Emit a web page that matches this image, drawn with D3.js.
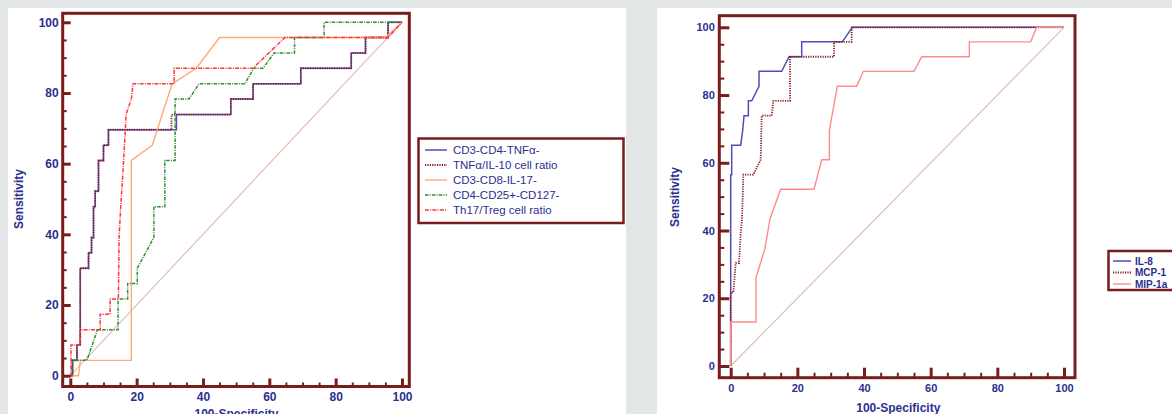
<!DOCTYPE html>
<html><head><meta charset="utf-8">
<script src="https://cdn.jsdelivr.net/npm/d3@7"></script>
<style>
html,body{margin:0;padding:0;background:#e3e6e7;}
svg{display:block;}
text{font-family:"Liberation Sans",Arial,sans-serif;}
</style></head>
<body>
<svg id="c" width="1172" height="414"></svg>
<script>
// ---------- DATA ----------
const axisTicks = [0, 20, 40, 60, 80, 100];
const xTitle = "100-Specificity";
const yTitle = "Sensitivity";

// Left chart series: 100-Specificity (x) / Sensitivity (y)
const leftNames = ["CD3-CD4-TNFα-", "TNFα/IL-10 cell ratio", "CD3-CD8-IL-17-", "CD4-CD25+-CD127-", "Th17/Treg cell ratio"];
const cd4tnfX = [0,0.7,0.7,2,2,3,3,5.5,5.5,6.4,6.4,7,7,7.5,7.5,8.5,8.5,10,10,11.5,11.5,32,32,48.4,48.4,55.1,55.1,69.5,69.5,84.7,84.7,89,89,95.8,95.8,100];
const cd4tnfY = [0,0,4.35,4.35,8.7,8.7,30.4,30.4,34.8,34.8,39.1,39.1,47.8,47.8,52.2,52.2,60.9,60.9,65.2,65.2,69.6,69.6,73.9,73.9,78.3,78.3,82.6,82.6,87,87,91.3,91.3,95.7,95.7,100,100];
const tnfil10X = [0,0.7,0.7,2,2,3,3,5.5,5.5,6.4,6.4,7,7,7.5,7.5,8.5,8.5,10,10,11.5,11.5,30.5,30.5,48.4,48.4,55.1,55.1,69.5,69.5,84.7,84.7,89,89,95.8,95.8,100];
const tnfil10Y = [0,0,4.35,4.35,8.7,8.7,30.4,30.4,34.8,34.8,39.1,39.1,47.8,47.8,52.2,52.2,60.9,60.9,65.2,65.2,69.6,69.6,73.9,73.9,78.3,78.3,82.6,82.6,87,87,91.3,91.3,95.7,95.7,100,100];
const cd8il17X = [0,2.5,3,18.4,18.4,24.7,30.7,38,45,95,100];
const cd8il17Y = [0,0,4.35,4.35,60.9,65.2,82.6,87,95.7,95.7,100];
const cd25X = [0,0.5,0.5,5,8.2,14.4,14.4,17.3,17.3,20.2,20.2,25.2,25.2,28.5,28.5,31.6,31.6,35.8,38.8,52.6,55.3,58.1,61.4,67.6,67.6,76.5,76.5,100];
const cd25Y = [0,0,4.35,4.35,13,13,21.7,21.7,26.1,26.1,30.4,39.1,47.8,47.8,60.9,60.9,78.3,78.3,82.6,82.6,87,87,91.3,91.3,95.7,95.7,100,100];
const th17X = [0,0.2,0.2,3,3,9,9,12,12,14.5,14.7,15.2,15.8,16.6,16.8,18.4,18.9,31.3,31.3,55.1,64.7,95.8,100];
const th17Y = [0,0,8.7,8.7,13,13,17.4,17.4,21.7,21.7,39.1,47.8,56.5,69.6,73.9,78.3,82.6,82.6,87,87,95.7,95.7,100];

// Right chart series
const rightNames = ["IL-8", "MCP-1", "MIP-1a"];
const il8X = [0,0,0.3,0.3,3,3.6,4,5.3,5.3,6.3,8.5,8.5,15.3,17.5,21.3,21.3,33.5,36.5,100];
const il8Y = [0,56.5,56.5,65.2,65.2,69.6,73.9,73.9,78.3,78.3,82.6,87,87,91.3,91.3,95.7,95.7,100,100];
const mcp1X = [0,0,0.8,1.5,2.5,3,3.4,3.8,6.8,9,9.3,12.3,12.8,17.8,17.8,31,31,36.3,36.3,100];
const mcp1Y = [0,21.7,21.7,30.4,30.4,39.1,43.5,56.5,56.5,60.9,73.9,73.9,78.3,78.3,91.3,91.3,95.7,95.7,100,100];
const mip1aX = [0,0,7.6,7.6,10.3,11.8,15,25,27.3,29.6,29.6,32,37.8,39.8,55,57.3,71.6,71.6,90,91.8,100];
const mip1aY = [0,13,13,26.1,34.8,43.5,52.2,52.2,60.9,60.9,69.6,82.6,82.6,87,87,91.3,91.3,95.7,95.7,100,100];

const diagX = [0, 100];
const diagY = [0, 100];

// ---------- STYLE ----------
const FRAME = "#7a1c1c";
const NAVY = "#2b2f8f";
const DIAG = "#e3bdb4";
const styles = {
  blue:   {stroke:"#4f4fb8", w:1.5, dash:null},
  maroon: {stroke:"#8a1e1e", w:1.8, dash:"1.2,1.2"},
  orange: {stroke:"#ffab78", w:1.4, dash:null},
  green:  {stroke:"#2f8f2f", w:1.5, dash:"3.5,1.2,1,1.2"},
  red:    {stroke:"#ff3535", w:1.5, dash:"4,1.2,1,1.2"},
  pink:   {stroke:"#ff8a8a", w:1.4, dash:null}
};

const svg = d3.select("#c");
// white panels
svg.append("rect").attr("x",8).attr("y",8).attr("width",618).attr("height",406).attr("fill","#fff");
svg.append("rect").attr("x",657).attr("y",8).attr("width",515).attr("height",406).attr("fill","#fff");

function zip(xs, ys){ return xs.map((x,i)=>[x, ys[i]]); }

function drawChart(cfg){
  const x = d3.scaleLinear().domain([0,100]).range(cfg.xr);
  const y = d3.scaleLinear().domain([0,100]).range(cfg.yr);
  const g = svg.append("g");
  const line = d3.line().x(d=>x(d[0])).y(d=>y(d[1]));

  // diagonal
  g.append("path").datum(zip(diagX, diagY)).attr("d", line)
    .attr("fill","none").attr("stroke",DIAG).attr("stroke-width",1.2);

  // series
  cfg.series.forEach(s=>{
    const st = styles[s.style];
    g.append("path").datum(zip(s.x, s.y)).attr("d", line)
      .attr("fill","none").attr("stroke",st.stroke).attr("stroke-width",st.w)
      .attr("stroke-dasharray", st.dash).attr("stroke-linejoin","miter");
  });

  const f = cfg.frame;
  // minor ticks
  const minor = d3.range(0,101,5).filter(v=>v%20!==0);
  const yMinor = g.append("g").attr("transform",`translate(${f.x0},0)`)
    .call(d3.axisLeft(y).tickValues(minor).tickSize(-cfg.minorLen).tickFormat(""));
  const xMinor = g.append("g").attr("transform",`translate(0,${f.y1})`)
    .call(d3.axisBottom(x).tickValues(minor).tickSize(-cfg.minorLen).tickFormat(""));
  [yMinor,xMinor].forEach(a=>{a.select(".domain").remove();
    a.selectAll("line").attr("stroke",FRAME).attr("stroke-width",2);});

  // major ticks with labels
  const yAx = g.append("g").attr("transform",`translate(${f.x0},0)`)
    .call(d3.axisLeft(y).tickValues(axisTicks).tickSize(-cfg.majorLen).tickPadding(cfg.yPad));
  const xAx = g.append("g").attr("transform",`translate(0,${f.y1})`)
    .call(d3.axisBottom(x).tickValues(axisTicks).tickSize(-cfg.majorLen).tickPadding(cfg.xPad));
  [yAx,xAx].forEach(a=>{
    a.select(".domain").remove();
    a.selectAll("line").attr("stroke",FRAME).attr("stroke-width",3);
    a.selectAll("text").attr("fill",NAVY).style("font-size",cfg.fs+"px").style("font-weight","bold")
      .style("font-family","'Liberation Sans',Arial,sans-serif");
  });

  // frame
  g.append("rect").attr("x",f.x0).attr("y",f.y0).attr("width",f.x1-f.x0).attr("height",f.y1-f.y0)
    .attr("fill","none").attr("stroke",FRAME).attr("stroke-width",3);

  // titles
  g.append("text").attr("transform",`translate(${cfg.yt[0]},${cfg.yt[1]}) rotate(-90)`)
    .attr("text-anchor","middle").attr("dominant-baseline","central")
    .attr("fill",NAVY).style("font-size","12px").style("font-weight","bold").text(yTitle);
  g.append("text").attr("x",cfg.xt[0]).attr("y",cfg.xt[1]).attr("text-anchor","middle")
    .attr("fill",NAVY).style("font-size","12px").style("font-weight","bold").text(xTitle);

  // legend
  const L = cfg.legend;
  g.append("rect").attr("x",L.x).attr("y",L.y).attr("width",L.w).attr("height",L.h)
    .attr("fill","#fff").attr("stroke",FRAME).attr("stroke-width",2.5);
  cfg.series.forEach((s,i)=>{
    const st = styles[s.style];
    const yy = L.row0 + i*L.dy;
    g.append("line").attr("x1",L.lx0).attr("x2",L.lx1).attr("y1",yy).attr("y2",yy)
      .attr("stroke",st.stroke).attr("stroke-width",st.w).attr("stroke-dasharray",st.dash);
    g.append("text").attr("x",L.tx).attr("y",yy).attr("dominant-baseline","central")
      .attr("fill",NAVY).style("font-size",L.fs+"px").style("font-weight",L.fw).text(s.name);
  });
}

drawChart({
  xr:[70.3,402], yr:[375.7,22.3],
  frame:{x0:62.7,y0:13.3,x1:409.3,y1:386.5},
  majorLen:8, minorLen:4, yPad:4, xPad:6, fs:12,
  yt:[19,199], xt:[236.5,418],
  series:[
    {name:leftNames[0], x:cd4tnfX, y:cd4tnfY, style:"blue"},
    {name:leftNames[1], x:tnfil10X, y:tnfil10Y, style:"maroon"},
    {name:leftNames[2], x:cd8il17X, y:cd8il17Y, style:"orange"},
    {name:leftNames[3], x:cd25X, y:cd25Y, style:"green"},
    {name:leftNames[4], x:th17X, y:th17Y, style:"red"}
  ],
  legend:{x:418.5,y:138.5,w:205,h:84.5,row0:150,dy:15,lx0:425,lx1:447,tx:453,fs:11.5,fw:"normal"}
});

drawChart({
  xr:[730.7,1064], yr:[366,27.3],
  frame:{x0:719.3,y0:15.7,x1:1075,y1:377.7},
  majorLen:10, minorLen:5, yPad:4.5, xPad:6.5, fs:11,
  yt:[675,197], xt:[898.3,412],
  series:[
    {name:rightNames[0], x:il8X, y:il8Y, style:"blue"},
    {name:rightNames[1], x:mcp1X, y:mcp1Y, style:"maroon"},
    {name:rightNames[2], x:mip1aX, y:mip1aY, style:"pink"}
  ],
  legend:{x:1108.5,y:251,w:66,h:39,row0:261,dy:11.5,lx0:1113,lx1:1131,tx:1135,fs:10,fw:"bold"}
});
</script>
</body></html>
